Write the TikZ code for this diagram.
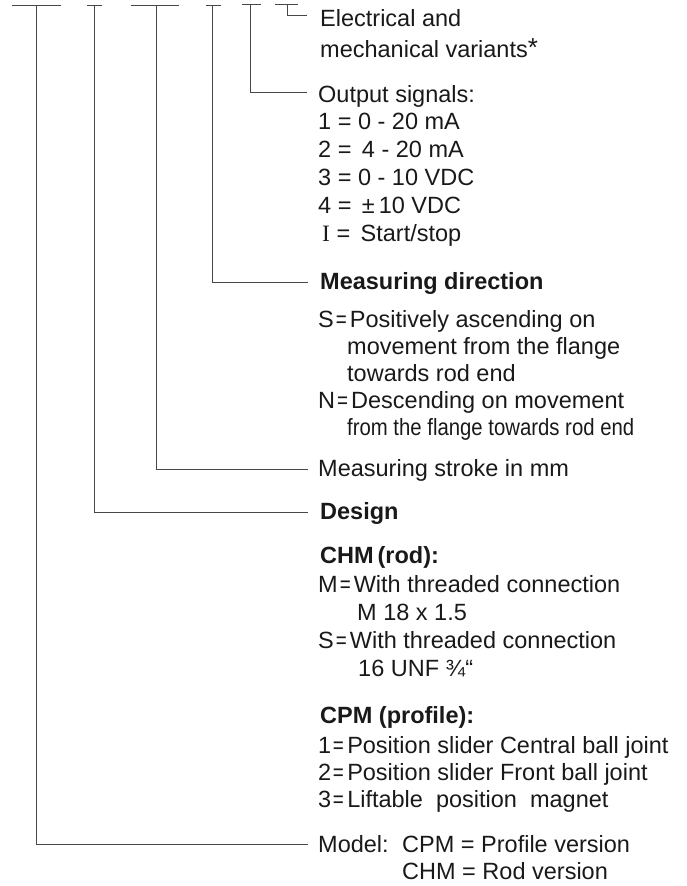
\documentclass[tikz,border=0pt]{standalone}
\usepackage{fontspec}
\setmainfont{Liberation Sans}
\newfontfamily\serifI{Liberation Serif}
\newcommand\smeq[2]{\kern#1pt\scalebox{0.8}[1]{=}\kern#2pt}
\begin{document}
\begin{tikzpicture}[x=1pt,y=-1pt,
  ln/.style={line width=0.9pt,draw=black!72},
  txt/.style={anchor=base west,inner sep=0pt,font=\fontsize{23.5}{28}\selectfont,text=black!90},
  btxt/.style={txt,font=\fontsize{23.5}{28}\selectfont\bfseries}]
\useasboundingbox (0,0) rectangle (687,886);
% top bars
\coordinate (t1a) at (12,5); \coordinate (t1b) at (61,5); \coordinate (v1) at (36,5);
\coordinate (t2a) at (87,5); \coordinate (t2b) at (102,5); \coordinate (v2) at (94,5);
\coordinate (t3a) at (131,5); \coordinate (t3b) at (179,5); \coordinate (v3) at (156,5);
\coordinate (t4a) at (206,5); \coordinate (t4b) at (221,5); \coordinate (v4) at (212,5);
\coordinate (t5a) at (242,4); \coordinate (t5b) at (261,4); \coordinate (v5) at (250,4);
\coordinate (t6a) at (275,4); \coordinate (t6b) at (298,4); \coordinate (v6) at (287,4);
% connector ends
\coordinate (e1) at (308,844);
\coordinate (e2) at (308,512);
\coordinate (e3) at (308,469);
\coordinate (e4) at (308,282);
\coordinate (e5) at (307,92);
\coordinate (e6) at (307,15);
\foreach \i in {1,...,6}{\draw[ln] (t\i a) -- (t\i b);}
\foreach \i in {1,...,6}{\draw[ln] (v\i) |- (e\i);}
% texts
\node[txt] (elec) at (320,27) {Electrical and};
\node[txt] (elec2) at (320,57) {mechanical variants\raisebox{1pt}{\fontsize{26}{28}\selectfont *}};
\node[txt] (out) at (318,102) {Output signals:};
\node[txt] (o1) at (318,129) {1 = 0 - 20 mA};
\node[txt] (o2) at (318,157) {2 = \,4 - 20 mA};
\node[txt] (o3) at (318,185) {3 = 0 - 10 VDC};
\node[txt] (o4) at (318,213) {4 = \,±\,10 VDC};
\node[txt] (o5) at (322,241) {{\serifI I} = \,Start/stop};
\node[btxt] (md) at (320,289) {Measuring direction};
\node[txt] (s1) at (318,327) {S\smeq{2}{3}Positively ascending on};
\node[txt] (s2) at (347,354) {movement from the flange};
\node[txt] (s3) at (347,381) {towards rod end};
\node[txt] (n1) at (318,408) {N\smeq{2}{3}Descending on movement};
\node[txt] (n2) at (347,435) {\scalebox{0.865}[1]{from the flange towards rod end}};
\node[txt] (ms) at (318,476) {Measuring stroke in mm};
\node[btxt] (des) at (320,519) {Design};
\node[btxt] (chm) at (320,563) {CHM\,(rod):};
\node[txt] (m1) at (318,592) {M\smeq{2}{3}With threaded connection};
\node[txt] (m2) at (357,620) {M 18 x 1.5};
\node[txt] (s4) at (318,648) {S\smeq{2}{3}With threaded connection};
\node[txt] (s5) at (358,676) {16 UNF ¾“};
\node[btxt] (cpm) at (320,723) {CPM (profile):};
\node[txt] (p1) at (318,753) {1\smeq{1.5}{3.5}Position slider Central ball joint};
\node[txt] (p2) at (318,780) {2\smeq{1.5}{3.5}Position slider Front ball joint};
\node[txt] (p3) at (318,807) {3\smeq{1.5}{3.5}Liftable\ \ position\ \ magnet};
\node[txt] (mod) at (318,852) {Model:};
\node[txt] (mod1) at (402,852) {CPM = Profile version};
\node[txt] (mod2) at (402,879) {CHM = Rod version};
\end{tikzpicture}
\end{document}
